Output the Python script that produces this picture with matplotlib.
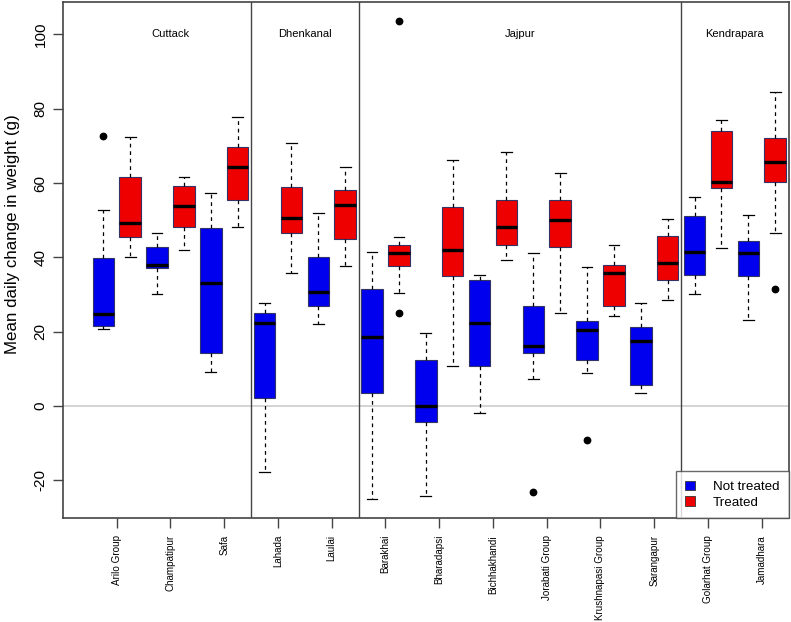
import matplotlib
matplotlib.use("Agg")
import matplotlib.pyplot as plt
from matplotlib.patches import Patch

plt.rcParams['font.family'] = ['Liberation Sans', 'DejaVu Sans']

villages = ["Arilo Group", "Champatipur", "Safa", "Lahada", "Laulai", "Barakhai",
            "Bharadapsi", "Bichhakhandi", "Jorabati Group", "Krushnapasi Group",
            "Sarangapur", "Golarhat Group", "Jamadhara"]
districts = ["Cuttack", "Dhenkanal", "Jajpur", "Kendrapara"]
district_sizes = [3, 2, 6, 2]

# Not treated
nt_whislo = [20.7, 30.1, 9.1, -17.8, 22.1, -25.0, -24.1, -1.8, 7.2, 9.0, 3.6, 30.1, 23.2]
nt_q1     = [21.6, 37.1, 14.4, 2.2, 26.9, 3.6, -4.4, 10.7, 14.3, 12.4, 5.7, 35.2, 34.9]
nt_med    = [24.8, 37.9, 33.1, 22.3, 30.6, 18.5, 0.0, 22.3, 16.1, 20.5, 17.5, 41.5, 41.1]
nt_q3     = [39.9, 42.9, 48.0, 25.1, 40.2, 31.4, 12.3, 34.0, 26.8, 22.8, 21.2, 51.0, 44.4]
nt_whishi = [52.8, 46.5, 57.3, 27.6, 51.9, 41.5, 19.6, 35.2, 41.1, 37.5, 27.6, 56.3, 51.5]
nt_fliers = [[72.6], [], [], [], [], [], [], [], [-23.2], [-9.2], [], [], []]

# Treated
t_whislo = [40.2, 42.1, 48.3, 35.8, 37.6, 30.4, 10.7, 39.4, 25.0, 24.2, 28.6, 42.5, 46.5]
t_q1     = [45.4, 48.3, 55.4, 46.5, 45.0, 37.6, 34.9, 43.4, 42.9, 26.8, 34.0, 58.6, 60.4]
t_med    = [49.2, 53.7, 64.4, 50.5, 54.0, 41.3, 42.1, 48.3, 50.1, 35.8, 38.6, 60.2, 65.7]
t_q3     = [61.5, 59.3, 69.8, 59.0, 58.0, 43.2, 53.6, 55.4, 55.4, 38.0, 45.8, 74.1, 72.1]
t_whishi = [72.5, 61.7, 77.7, 70.7, 64.4, 45.6, 66.1, 68.3, 62.6, 43.3, 50.2, 76.9, 84.4]
t_fliers = [[], [], [], [], [], [103.7, 24.9], [], [], [], [], [], [], [31.5]]

BLUE = "#0000EE"
RED = "#EE0000"

fig = plt.figure(figsize=(7.91, 6.22), dpi=100)
ax = fig.add_axes([0.0796, 0.1667, 0.9174, 0.8301])


def stats(lo, q1, med, q3, hi, fl):
    return [dict(whislo=a, q1=b, med=c, q3=d, whishi=e, fliers=f)
            for a, b, c, d, e, f in zip(lo, q1, med, q3, hi, fl)]


pos = list(range(1, len(villages) + 1))
ax.axhline(0, color="#cccccc", lw=1.2, zorder=0)

for st, off, col in [(stats(nt_whislo, nt_q1, nt_med, nt_q3, nt_whishi, nt_fliers), -0.25, BLUE),
                     (stats(t_whislo, t_q1, t_med, t_q3, t_whishi, t_fliers), 0.25, RED)]:
    ax.bxp(st, positions=[p + off for p in pos], widths=0.4, capwidths=0.2,
           patch_artist=True, manage_ticks=False,
           boxprops=dict(facecolor=col, edgecolor="#333366", lw=0.8),
           medianprops=dict(color="black", lw=2.4, solid_capstyle="butt"),
           whiskerprops=dict(color="black", lw=0.9, linestyle=(0, (3, 3))),
           capprops=dict(color="black", lw=0.9),
           flierprops=dict(marker="o", markerfacecolor="black", markeredgecolor="black",
                           markersize=4.6))

# district separators and labels
start = 0.5
for name, n in zip(districts, district_sizes):
    end = start + n
    ax.text((start + end) / 2, 100, name, ha="center", va="center", fontsize=8)
    if end < len(villages) + 0.5:
        ax.axvline(end, color="#444444", lw=1.0)
    start = end

ax.set_xlim(0.0, 13.5)
ax.set_ylim(-30.2, 108.7)
ax.set_xticks(pos)
ax.set_xticklabels(villages, rotation=90, fontsize=7.1)
ax.set_yticks([-20, 0, 20, 40, 60, 80, 100])
ax.set_yticklabels(["-20", "0", "20", "40", "60", "80", "100"], rotation=90,
                   va="center", fontsize=11)
ax.tick_params(axis="both", direction="out", length=7, color="#444444", width=1)
ax.tick_params(axis="x", pad=5)
ax.tick_params(axis="y", pad=4)
for s in ax.spines.values():
    s.set_color("#444444")
    s.set_linewidth(1.2)
ax.set_ylabel("Mean daily change in weight (g)", fontsize=12.2)
ax.yaxis.set_label_coords(-0.0595, 0.55)

handles = [Patch(facecolor=BLUE, edgecolor="#333333", lw=0.6, label="Not treated"),
           Patch(facecolor=RED, edgecolor="#333333", lw=0.6, label="Treated")]
leg = ax.legend(handles=handles, loc="lower right", fontsize=9.6, frameon=True,
                fancybox=False, edgecolor="#444444", borderaxespad=0,
                handlelength=0.75, handleheight=0.75, handletextpad=1.3,
                labelspacing=0.25, borderpad=0.7)
leg.get_frame().set_linewidth(1.0)

fig.savefig("out.png", dpi=100)
